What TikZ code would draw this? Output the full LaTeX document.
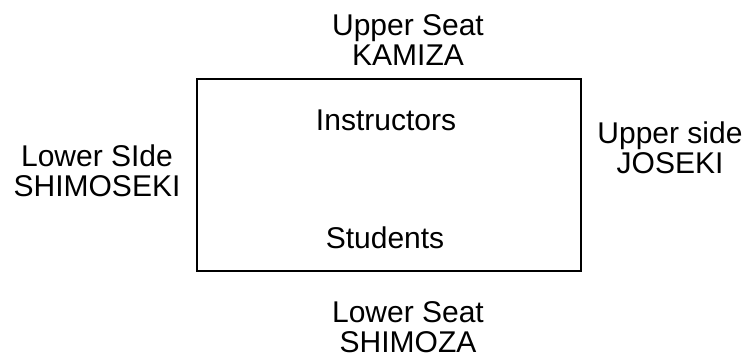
\documentclass[tikz,border=0pt]{standalone}
\usepackage{fontspec}
\setmainfont{Liberation Sans}
\begin{document}
\begin{tikzpicture}[x=1pt,y=-1pt,
  lbl/.style={inner sep=0pt, align=center, anchor=base, font=\fontsize{30}{30}\selectfont},
  room/.style={draw=black, line width=2.5pt}]
\useasboundingbox (0,0) rectangle (751,357);
\node[room, minimum width=384pt, minimum height=192pt, inner sep=0pt] (hall) at (389,175) {};
\node[lbl] (kamiza) at (408,65) {Upper Seat\\KAMIZA};
\node[lbl] (instr) at (386,130) {Instructors};
\node[lbl] (stud) at (385,248) {Students};
\node[lbl] (shimoseki) at (97,196) {Lower SIde\\SHIMOSEKI};
\node[lbl] (joseki) at (670,173) {Upper side\\JOSEKI};
\node[lbl] (shimoza) at (408,352) {Lower Seat\\SHIMOZA};
\end{tikzpicture}
\end{document}
